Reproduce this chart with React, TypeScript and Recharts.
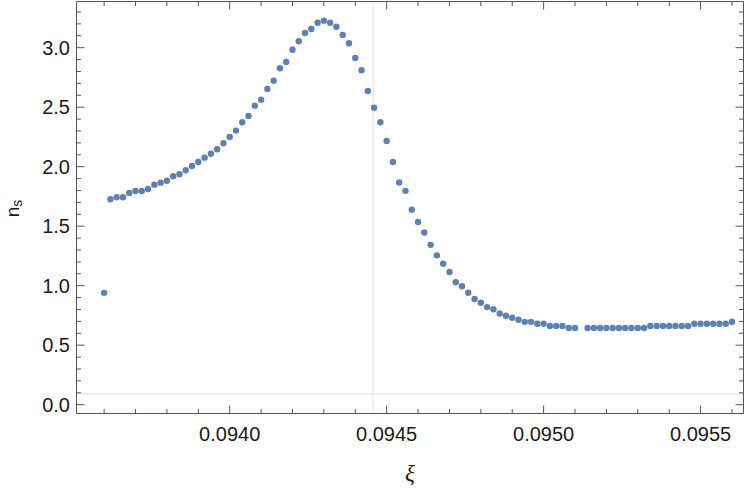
import React from 'react';
import { ScatterChart, Scatter, XAxis, YAxis, ReferenceLine } from 'recharts';

// xi grid (one sample near 0.09512 is missing in the source plot)
const xiValues = [
  0.0936, 0.09362, 0.09364, 0.09366, 0.09368, 0.0937, 0.09372, 0.09374, 0.09376, 0.09378,
  0.0938, 0.09382, 0.09384, 0.09386, 0.09388, 0.0939, 0.09392, 0.09394, 0.09396, 0.09398,
  0.094, 0.09402, 0.09404, 0.09406, 0.09408, 0.0941, 0.09412, 0.09414, 0.09416, 0.09418,
  0.0942, 0.09422, 0.09424, 0.09426, 0.09428, 0.0943, 0.09432, 0.09434, 0.09436, 0.09438,
  0.0944, 0.09442, 0.09444, 0.09446, 0.09448, 0.0945, 0.09452, 0.09454, 0.09456, 0.09458,
  0.0946, 0.09462, 0.09464, 0.09466, 0.09468, 0.0947, 0.09472, 0.09474, 0.09476, 0.09478,
  0.0948, 0.09482, 0.09484, 0.09486, 0.09488, 0.0949, 0.09492, 0.09494, 0.09496, 0.09498,
  0.095, 0.09502, 0.09504, 0.09506, 0.09508, 0.0951, 0.09514, 0.09516, 0.09518,
  0.0952, 0.09522, 0.09524, 0.09526, 0.09528, 0.0953, 0.09532, 0.09534, 0.09536, 0.09538,
  0.0954, 0.09542, 0.09544, 0.09546, 0.09548, 0.0955, 0.09552, 0.09554, 0.09556, 0.09558,
  0.0956,
];

const nsValues = [
  0.94, 1.726, 1.743, 1.743, 1.779, 1.796, 1.796, 1.813, 1.849, 1.866,
  1.882, 1.919, 1.936, 1.97, 2.006, 2.039, 2.076, 2.109, 2.146, 2.197,
  2.25, 2.303, 2.373, 2.426, 2.513, 2.563, 2.653, 2.723, 2.827, 2.88,
  2.983, 3.054, 3.124, 3.157, 3.21, 3.227, 3.21, 3.176, 3.107, 3.037,
  2.913, 2.81, 2.636, 2.496, 2.373, 2.216, 2.04, 1.867, 1.797, 1.639,
  1.535, 1.447, 1.343, 1.255, 1.185, 1.115, 1.029, 0.995, 0.941, 0.888,
  0.856, 0.82, 0.802, 0.766, 0.748, 0.731, 0.714, 0.696, 0.696, 0.68,
  0.68, 0.661, 0.661, 0.661, 0.645, 0.645, 0.645, 0.645, 0.645,
  0.645, 0.645, 0.645, 0.645, 0.645, 0.645, 0.645, 0.661, 0.661, 0.661,
  0.661, 0.661, 0.661, 0.661, 0.68, 0.68, 0.68, 0.68, 0.68, 0.68,
  0.697,
];

const xTicks = [
  0.0936, 0.0937, 0.0938, 0.0939, 0.094, 0.0941, 0.0942, 0.0943, 0.0944, 0.0945, 0.0946,
  0.0947, 0.0948, 0.0949, 0.095, 0.0951, 0.0952, 0.0953, 0.0954, 0.0955, 0.0956,
];
const xMajorTicks = [0.094, 0.0945, 0.095, 0.0955];

const yTicks = [
  0, 0.1, 0.2, 0.3, 0.4, 0.5, 0.6, 0.7, 0.8, 0.9, 1, 1.1, 1.2, 1.3, 1.4, 1.5, 1.6,
  1.7, 1.8, 1.9, 2, 2.1, 2.2, 2.3, 2.4, 2.5, 2.6, 2.7, 2.8, 2.9, 3, 3.1, 3.2, 3.3,
];
const yMajorTicks = [0, 0.5, 1, 1.5, 2, 2.5, 3];

const points = xiValues.map((xi, i) => ({ xi, ns: nsValues[i] }));

const X_DOMAIN = [0.093512, 0.0956367];
const Y_DOMAIN = [-0.074, 3.388];

const frameColor = '#555555';
const textFont = '"Liberation Sans", Arial, sans-serif';

const isMajor = (v: number, majors: number[]) => majors.some((m) => Math.abs(m - v) < 1e-9);

// Mathematica-style frame ticks: drawn inward, longer on labelled values
const FrameTick = (props: any) => {
  const { x, y, payload, side } = props;
  const v = payload.value;
  const major = isMajor(v, side === 'bottom' || side === 'top' ? xMajorTicks : yMajorTicks);
  const len = major ? 8 : 4.5;
  if (side === 'bottom') {
    return (
      <g>
        <line x1={x} y1={y} x2={x} y2={y - len} stroke={frameColor} />
        {major && (
          <text x={x} y={y + 27} textAnchor="middle" fontFamily={textFont} fontSize={20} fill="#1a1a1a">
            {v.toFixed(4)}
          </text>
        )}
      </g>
    );
  }
  if (side === 'top') {
    return <line x1={x} y1={y} x2={x} y2={y + len} stroke={frameColor} />;
  }
  if (side === 'left') {
    return (
      <g>
        <line x1={x} y1={y} x2={x + len} y2={y} stroke={frameColor} />
        {major && (
          <text x={x - 6.5} y={y + 7} textAnchor="end" fontFamily={textFont} fontSize={20} fill="#1a1a1a">
            {v.toFixed(1)}
          </text>
        )}
      </g>
    );
  }
  return <line x1={x} y1={y} x2={x - len} y2={y} stroke={frameColor} />;
};

const XiTitle = () => (
  <text x={410} y={481} textAnchor="middle" fontFamily='"Liberation Serif", serif' fontStyle="italic" fontSize={23} fill="#1a1a1a">
    ξ
  </text>
);

const NsTitle = () => (
  <text x={18.5} y={208.5} transform="rotate(-90, 18.5, 208.5)" textAnchor="middle" fontFamily={textFont} fontSize={19} fill="#1a1a1a">
    n<tspan fontSize={14} dy={3}>s</tspan>
  </text>
);

const Dot = (props: any) => <circle cx={props.cx} cy={props.cy} r={3.2} fill="#5E81B5" />;
const NoDot = () => <g />;

const App: React.FC = () => {
  return (
    <div style={{ position: 'absolute', left: 0, top: 0, background: '#fff' }}>
      <ScatterChart width={747} height={488} margin={{ top: 0, right: 0, bottom: 0, left: 0 }}>
        <XAxis
          xAxisId="bottom" type="number" dataKey="xi" domain={X_DOMAIN} allowDataOverflow
          ticks={xTicks} interval={0} height={74.5} tickSize={0} tickMargin={0} tickLine={false}
          axisLine={{ stroke: frameColor }} tick={(p: any) => <FrameTick {...p} side="bottom" />}
          label={<XiTitle />}
        />
        <XAxis
          xAxisId="top" orientation="top" type="number" dataKey="xi" domain={X_DOMAIN} allowDataOverflow
          ticks={xTicks} interval={0} height={1.5} tickSize={0} tickMargin={0} tickLine={false}
          axisLine={{ stroke: frameColor }} tick={(p: any) => <FrameTick {...p} side="top" />}
        />
        <YAxis
          yAxisId="left" type="number" dataKey="ns" domain={Y_DOMAIN} allowDataOverflow
          ticks={yTicks} interval={0} width={76.5} tickSize={0} tickMargin={0} tickLine={false}
          axisLine={{ stroke: frameColor }} tick={(p: any) => <FrameTick {...p} side="left" />}
          label={<NsTitle />}
        />
        <YAxis
          yAxisId="right" orientation="right" type="number" dataKey="ns" domain={Y_DOMAIN} allowDataOverflow
          ticks={yTicks} interval={0} width={3.5} tickSize={0} tickMargin={0} tickLine={false}
          axisLine={{ stroke: frameColor }} tick={(p: any) => <FrameTick {...p} side="right" />}
        />
        <ReferenceLine xAxisId="bottom" yAxisId="left" x={0.094457} stroke="#e2e2e2" />
        <ReferenceLine xAxisId="bottom" yAxisId="left" y={0.09} stroke="#e2e2e2" />
        <Scatter xAxisId="top" yAxisId="right" data={points} shape={<NoDot />} isAnimationActive={false} />
        <Scatter xAxisId="bottom" yAxisId="left" data={points} shape={<Dot />} isAnimationActive={false} />
      </ScatterChart>
    </div>
  );
};

export default App;
